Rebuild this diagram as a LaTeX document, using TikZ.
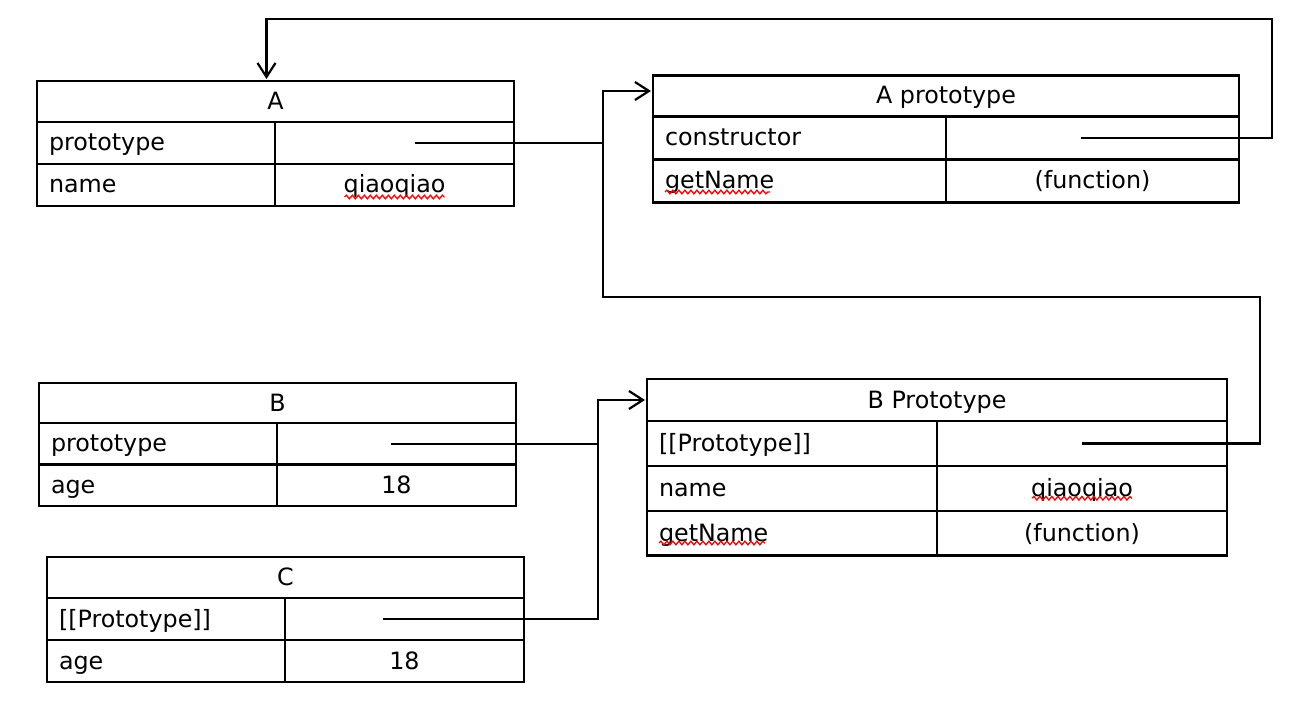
\documentclass[tikz,border=0pt]{standalone}
\usepackage{fontspec}
\setmainfont{DejaVu Sans}
\usetikzlibrary{positioning,arrows.meta,decorations.pathmorphing}

\begin{document}
\begin{tikzpicture}[
    x=1pt, y=-1pt,
    every node/.style={font=\fontsize{23.8}{28}\selectfont}, % Schrift der Tabellen
    tabhead/.style={draw, line width=2.2pt, outer sep=0pt, inner sep=0pt, minimum width=#1, minimum height=41pt, text height=18pt, text depth=2pt}, % Kopfzeile
    keycell/.style={draw, line width=2.2pt, outer sep=0pt, inner xsep=12pt, inner ysep=0pt, text width=#1, align=left, minimum height=42pt, text height=18pt, text depth=2pt}, % linke Zelle
    valcell/.style={draw, line width=2.2pt, outer sep=0pt, inner sep=0pt, minimum width=#1, minimum height=42pt, text height=18pt, text depth=2pt}, % rechte Zelle
    link/.style={line width=2.2pt}, % Verbindung
    arrowlink/.style={link, -{Straight Barb[length=14pt,width=18pt]}, shorten >=2pt}, % Verbindung mit Pfeil
    spell/.style={red, line width=1.3pt, decorate, decoration={snake, amplitude=1.8pt, segment length=6pt}} % Rechtschreib-Unterstreichung
]
\useasboundingbox (0,0) rectangle (1290,714);

% Tabelle A
\node[tabhead=477pt] (aHead) at (275.5,101.5) {A};
\node[keycell=214pt, below=0pt of aHead.south west, anchor=north west] (aProtoK) {prototype};
\node[valcell=239pt, right=0pt of aProtoK] (aProtoV) {};
\node[keycell=214pt, below=0pt of aProtoK.south west, anchor=north west] (aNameK) {name};
\node[valcell=239pt, right=0pt of aNameK] (aNameV) {qiaoqiao};

% Tabelle A prototype
\node[tabhead=586pt] (apHead) at (946,96) {A prototype};
\node[keycell=269pt, minimum height=43pt, below=0pt of apHead.south west, anchor=north west] (apCtorK) {constructor};
\node[valcell=293pt, minimum height=43pt, right=0pt of apCtorK] (apCtorV) {};
\node[keycell=269pt, minimum height=43pt, below=0pt of apCtorK.south west, anchor=north west] (apGetK) {getName};
\node[valcell=293pt, minimum height=43pt, right=0pt of apGetK] (apGetV) {(function)};

% Tabelle B
\node[tabhead=477pt, minimum height=40pt] (bHead) at (277.5,403) {B};
\node[keycell=214pt, minimum height=41.5pt, below=0pt of bHead.south west, anchor=north west] (bProtoK) {prototype};
\node[valcell=239pt, minimum height=41.5pt, right=0pt of bProtoK] (bProtoV) {};
\node[keycell=214pt, minimum height=41.5pt, below=0pt of bProtoK.south west, anchor=north west] (bAgeK) {age};
\node[valcell=239pt, minimum height=41.5pt, right=0pt of bAgeK] (bAgeV) {18};

% Tabelle C
\node[tabhead=477pt] (cHead) at (285.5,577.5) {C};
\node[keycell=214pt, below=0pt of cHead.south west, anchor=north west] (cProtoK) {[[Prototype]]};
\node[valcell=239pt, right=0pt of cProtoK] (cProtoV) {};
\node[keycell=214pt, below=0pt of cProtoK.south west, anchor=north west] (cAgeK) {age};
\node[valcell=239pt, right=0pt of cAgeK] (cAgeV) {18};

% Tabelle B Prototype
\node[tabhead=580pt, minimum height=42pt] (bpHead) at (937,400) {B Prototype};
\node[keycell=266pt, minimum height=44.8pt, below=0pt of bpHead.south west, anchor=north west] (bpProtoK) {[[Prototype]]};
\node[valcell=290pt, minimum height=44.8pt, right=0pt of bpProtoK] (bpProtoV) {};
\node[keycell=266pt, minimum height=44.8pt, below=0pt of bpProtoK.south west, anchor=north west] (bpNameK) {name};
\node[valcell=290pt, minimum height=44.8pt, right=0pt of bpNameK] (bpNameV) {qiaoqiao};
\node[keycell=266pt, minimum height=44.8pt, below=0pt of bpNameK.south west, anchor=north west] (bpGetK) {getName};
\node[valcell=290pt, minimum height=44.8pt, right=0pt of bpGetK] (bpGetV) {(function)};

% Knickpunkte
\coordinate (busTop) at (603,297);
\coordinate (turnB) at (1260,297);
\coordinate (turnA) at (1272,19);
\coordinate (busBot) at (598,520);

% Verbindungen
\draw[arrowlink] (bpProtoV.center) -| (turnB) -- (busTop) |- ([yshift=5pt]apHead.west);
\draw[link] ([xshift=20pt]aProtoV.center) -- (aProtoV.center -| busTop);
\draw[arrowlink] ([xshift=-12pt]apCtorV.center) -| (turnA) -| ([xshift=-9pt]aHead.north);
\draw[link] ([xshift=-6pt]bProtoV.center) -- (bProtoV.center -| busBot);
\draw[arrowlink] ([xshift=-22pt]cProtoV.center) -| (busBot) |- (bpHead.west);

% Rechtschreib-Markierungen
\draw[spell] ([shift={(-50pt,-12pt)}]aNameV.center) -- ([shift={(50pt,-12pt)}]aNameV.center);
\draw[spell] ([shift={(-50pt,-10pt)}]bpNameV.center) -- ([shift={(50pt,-10pt)}]bpNameV.center);
\draw[spell] ([shift={(12pt,-11pt)}]apGetK.west) -- ([shift={(117pt,-11pt)}]apGetK.west);
\draw[spell] ([shift={(12pt,-10pt)}]bpGetK.west) -- ([shift={(118pt,-10pt)}]bpGetK.west);

\end{tikzpicture}
\end{document}
